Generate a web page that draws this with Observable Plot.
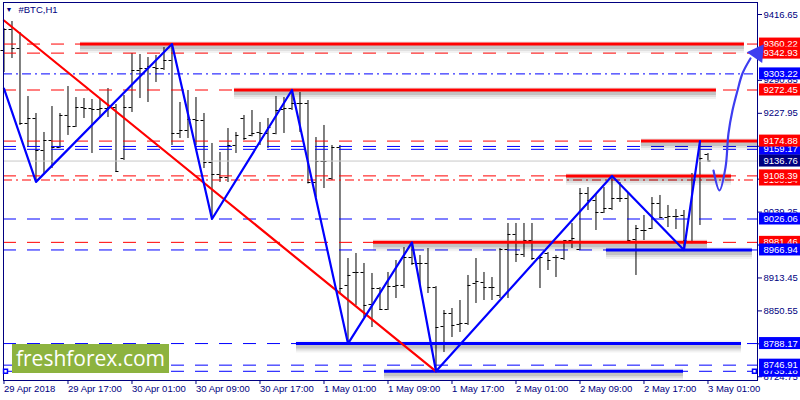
<!DOCTYPE html>
<html>
<head>
<meta charset="utf-8">
<script src="https://cdn.jsdelivr.net/npm/d3@7"></script>
<script src="https://cdn.jsdelivr.net/npm/@observablehq/plot@0.6"></script>
<style>
  body { margin: 0; background: #fff; }
  #chart { position: relative; width: 800px; height: 400px; }
  #logo {
    position: absolute; left: 12px; top: 344px; width: 157px; height: 29px;
    background: #8db33f; color: #fff; font: 21px "Open Sans", sans-serif;
    line-height: 28px; text-align: center;
  }
</style>
</head>
<body>
<div id="chart"><div id="logo">freshforex.com</div></div>
<script>
// H1 bars from 29 Apr 2018 09:00 (chart time)
const opens = [9347.9,9388.0,9351.7,9208.5,9218.0,9156.9,9176.0,9162.6,9223.8,9202.7,
  9239.0,9237.1,9235.2,9237.1,9239.0,9141.6,9239.0,9309.7,9313.5,9315.4,
  9313.5,9328.8,9189.4,9195.1,9216.1,9214.2,9134.0,9111.1,9105.3,9166.5,
  9218.0,9185.6,9191.3,9189.4,9189.4,9235.2,9237.1,9246.7,9246.7,9095.8,
  9135.9,9103.4,9162.6,8899.1,8923.9,8923.9,8862.8,8893.3,8853.2,8897.1,
  8899.1,8952.5,8941.1,8941.1,8895.2,8820.7,8845.6,8824.6,8826.5,8902.9,
  8904.8,8895.2,8880.0,8967.8,8996.5,8958.3,8985.0,8950.6,8960.2,8952.5,
  8950.6,8985.0,8967.8,9074.8,9061.4,9038.5,9046.1,9065.2,9065.2,8986.9,
  9004.1,9007.9,9055.7,9028.9,9030.8,9032.8,8981.2,9109.2,9149.3];
const highs = [9389.9,9403.3,9382.3,9260.0,9227.6,9191.3,9240.9,9227.6,9279.1,9258.1,
  9256.2,9254.3,9254.3,9275.3,9244.8,9262.0,9342.2,9340.3,9334.5,9338.4,
  9353.6,9360.22,9248.6,9271.5,9258.1,9227.6,9170.3,9153.1,9198.9,9191.3,
  9223.8,9233.3,9210.4,9218.0,9260.0,9258.1,9272.45,9267.7,9252.4,9181.7,
  9204.7,9166.5,9166.5,8950.6,8960.2,8941.1,8922.0,8895.2,8923.9,8946.8,
  8971.6,8981.46,8956.4,8969.7,8897.0,8851.3,8855.1,8870.4,8918.2,8950.6,
  8923.9,8914.3,8969.7,9017.5,9017.5,9017.5,9017.5,8956.4,8962.1,8956.4,
  8985.0,9017.5,9084.3,9086.2,9074.8,9086.2,9108.39,9095.8,9074.8,9013.7,
  9032.8,9067.1,9071.0,9051.9,9044.2,9042.3,9113.0,9174.88,9151.2];
const lows = [9305.9,9332.6,9204.7,9162.6,9097.0,9113.0,9122.5,9160.7,9185.6,9200.8,
  9218.0,9151.2,9218.0,9219.9,9114.9,9137.8,9229.5,9256.2,9248.6,9286.8,
  9309.7,9166.5,9179.8,9179.8,9166.5,9122.5,9026.06,9095.8,9095.8,9151.2,
  9176.0,9183.0,9166.5,9160.7,9187.0,9189.4,9233.3,9191.3,9093.0,9067.1,
  9084.3,9099.6,8883.8,8788.17,8860.9,8837.9,8818.8,8851.3,8851.3,8874.2,
  8893.3,8937.3,8899.1,8883.8,8735.18,8771.1,8799.7,8809.3,8822.7,8864.7,
  8870.4,8870.4,8874.2,8874.2,8943.0,8952.5,8946.8,8893.3,8927.7,8914.3,
  8946.8,8969.7,8965.9,9042.3,9004.1,9036.6,9042.3,9057.6,8983.0,8918.2,
  8985.0,9006.0,9027.0,9009.8,9006.0,8966.94,8979.0,9013.7,9136.76];
const closes = [9388.0,9351.7,9208.5,9218.0,9156.9,9176.0,9162.6,9223.8,9202.7,9239.0,
  9237.1,9235.2,9237.1,9239.0,9116.8,9239.0,9309.7,9313.5,9317.3,9313.5,
  9328.8,9189.4,9195.1,9216.1,9214.2,9134.0,9111.1,9105.3,9166.5,9185.6,
  9179.8,9189.4,9189.4,9200.8,9233.3,9237.1,9246.7,9246.7,9095.8,9135.9,
  9135.9,9162.6,8893.3,8918.2,8923.9,8860.9,8893.3,8853.2,8897.1,8899.1,
  8952.5,8941.1,8941.1,8895.2,8818.8,8845.6,8822.7,8826.5,8899.1,8906.7,
  8895.2,8895.2,8967.8,8996.5,8958.3,8985.0,8950.6,8952.5,8946.8,8952.5,
  8985.0,8988.8,9074.8,9061.4,9038.5,9046.1,9065.2,9065.2,8985.0,9007.9,
  9004.1,9055.7,9028.9,9030.8,9030.8,8985.0,9109.2,9141.6,9136.76];

// horizontal levels, in drawing order (later tags cover earlier ones)
const levelPrices = [9164.62,9100.54,8735.18,8981.46,9159.17,9360.22,9342.93,9303.22,9272.45,
  9174.88,9136.76,9108.39,9026.06,8966.94,8788.17,8746.91];
const levelColors = ["blue","red","blue","red","blue","red","red","blue","red",
  "red","navy","red","blue","blue","blue","blue"];
const levelStyles = ["dash","dashdot","dash","dash","dash","dash","dash","dashdot","dash",
  "dash","bid","dash","dash","dash","dash","dash"];
const levelTagged = [false,true,true,true,true,true,true,true,true,
  true,true,true,true,true,true,true];

// thick support / resistance segments (bar index from..to)
const segPrices = [9360.22,9272.45,9174.88,9108.39,8981.46,8966.94,8788.17,8735.18];
const segColors = ["red","red","red","red","red","blue","blue","blue"];
const segFrom = [9.56,28.81,79.69,70.31,46.19,75.31,36.56,47.56];
const segTo = [92.56,89.06,94.19,90.94,87.94,93.56,92.19,84.94];

// zigzag pivots and trend line (bar index, price)
const zigIndex = [0,4,21,26,36,43,51,54,76,85,87];
const zigPrice = [9275.3,9097.0,9360.22,9026.06,9272.45,8788.17,8981.46,8735.18,9108.39,8966.94,9174.88];
const trendIndex = [0,54];
const trendPrice = [9405.2,8735.18];

// forecast arrow
const arrowIndex = [88.69,89.44,90.19,90.56,91.06,91.69,92.31,93.31];
const arrowPrice = [9118.7,9080.5,9124.4,9189.4,9233.3,9271.5,9304.0,9332.6];
const arrowTip = {i: 94.2, p: 9343.0};

const yTicks = [9416.65,9353.75,9290.85,9227.95,9165.05,9102.15,9039.25,8976.35,8913.45,8850.55,8787.65,8724.75];
const xTickLabels = ["29 Apr 2018","29 Apr 17:00","30 Apr 01:00","30 Apr 09:00","30 Apr 17:00",
  "1 May 01:00","1 May 09:00","1 May 17:00","2 May 01:00","2 May 09:00","2 May 17:00","3 May 01:00"];

const NAVY = "#000080";
const colorOf = {red: "#ff0000", blue: "#0000ff", navy: NAVY};
const t0 = Date.UTC(2018, 3, 29, 9);
const at = i => new Date(t0 + i * 3600e3);
const xEnd = at(94.19);

const bars = opens.map((o, i) => ({t: at(i), o, h: highs[i], l: lows[i], c: closes[i]}));
const levels = levelPrices.map((p, i) => ({price: p, stroke: colorOf[levelColors[i]], style: levelStyles[i], tag: levelTagged[i]}));
const segs = segPrices.map((p, i) => ({price: p, stroke: colorOf[segColors[i]], x1: at(segFrom[i]), x2: at(segTo[i])}));
const zig = zigIndex.map((i, k) => ({t: at(i), p: zigPrice[k]}));
const trend = trendIndex.map((i, k) => ({t: at(i), p: trendPrice[k]}));
const arrow = arrowIndex.map((i, k) => ({t: at(i), p: arrowPrice[k]}));
const xTicks = xTickLabels.map((d, k) => at(k * 8));
const half = 22.5 * 60e3; // open/close tick length

const shadow = (w, op) => Plot.ruleY(segs, {y: "price", x1: "x1", x2: "x2", stroke: "#000", strokeOpacity: op, strokeWidth: w, dy: 3});

// each tag = box + text, so a later tag hides the one under it
const tags = levels.filter(d => d.tag).flatMap(d => [
  Plot.rect([d], {x1: () => xEnd, x2: () => xEnd, y1: "price", y2: "price",
    fill: "stroke", insetLeft: 2, insetRight: -43, insetTop: -6, insetBottom: -6}),
  Plot.text([d], {x: () => xEnd, y: "price", text: d => d.price.toFixed(2),
    dx: 6, textAnchor: "start", fill: "white"})
]);

const chart = Plot.plot({
  width: 800,
  height: 400,
  marginLeft: 3, marginRight: 43, marginTop: 2, marginBottom: 20,
  x: {type: "utc", domain: [at(-0.0625), xEnd]},
  y: {domain: [8717.6, 9439.6]},
  color: {type: "identity"},
  style: {fontFamily: "'Liberation Sans', Arial, sans-serif", fontSize: "9.5px", color: NAVY, background: "white", overflow: "visible"},
  marks: [
    // bars
    Plot.ruleX(bars, {x: "t", y1: "l", y2: "h", stroke: "#000"}),
    Plot.ruleY(bars, {y: "o", x1: d => new Date(+d.t - half), x2: "t", stroke: "#000"}),
    Plot.ruleY(bars, {y: "c", x1: "t", x2: d => new Date(+d.t + half), stroke: "#000"}),
    // level lines
    Plot.ruleY(levels.filter(d => d.style === "dash"), {y: "price", stroke: "stroke", strokeDasharray: "13,11"}),
    Plot.ruleY(levels.filter(d => d.style === "dashdot"), {y: "price", stroke: "stroke", strokeDasharray: "9,4,2,4"}),
    Plot.ruleY(levels.filter(d => d.style === "bid"), {y: "price", stroke: "#c8c8c8"}),
    // thick segments with soft shadow
    shadow(12, 0.05), shadow(8, 0.08), shadow(4, 0.12),
    Plot.ruleY(segs, {y: "price", x1: "x1", x2: "x2", stroke: "stroke", strokeWidth: 3}),
    Plot.line(trend, {x: "t", y: "p", stroke: "#ff0000", strokeWidth: 2.2}),
    Plot.line(zig, {x: "t", y: "p", stroke: "#0000ff", strokeWidth: 2.2}),
    Plot.frame({stroke: NAVY}),
    Plot.axisY(yTicks, {anchor: "right", tickSize: 4, tickPadding: 2, tickFormat: d => d.toFixed(2), label: null}),
    Plot.axisX(xTicks, {anchor: "bottom", tickSize: 4, tickPadding: 1, textAnchor: "start",
      tickFormat: d => xTickLabels[Math.round((d - t0) / 3600e3 / 8)], label: null}),
    ...tags,
    Plot.dot([{t: at(0.19), p: 8735.18}, {t: at(93.81), p: 8735.18}], {x: "t", y: "p", symbol: "square", r: 2.2, stroke: "#0000ff", fill: "white"}),
    // forecast arrow
    Plot.line(arrow, {x: "t", y: "p", curve: "catmull-rom", stroke: "#3d3df0", strokeWidth: 2.2}),
    Plot.dot([arrowTip], {x: d => at(d.i), y: "p", symbol: "triangle", r: 7, fill: "#3d3df0", rotate: 35}),
    // title
    Plot.text(["▼"], {frameAnchor: "top-left", dx: 2, dy: 5, fontSize: 7, fill: NAVY}),
    Plot.text(["#BTC,H1"], {frameAnchor: "top-left", dx: 15, dy: 4, fill: NAVY})
  ]
});
d3.select("#chart").append(() => chart);
</script>
</body>
</html>
